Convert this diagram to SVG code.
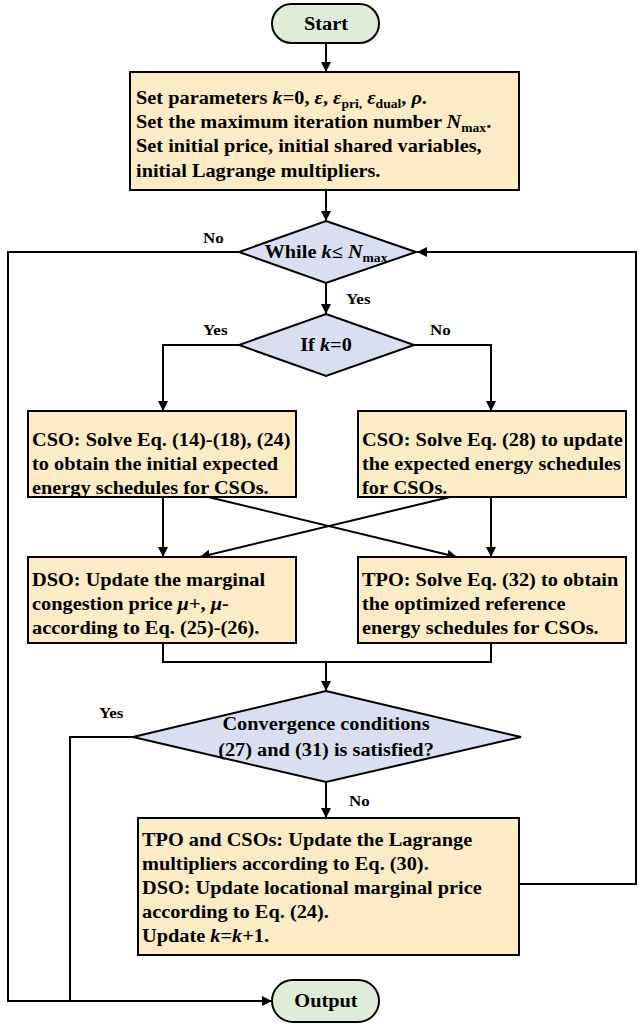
<svg xmlns="http://www.w3.org/2000/svg" width="639" height="1025" viewBox="0 0 639 1025">
<defs>
<marker id="ah" viewBox="0 0 10 10" refX="10" refY="5" markerWidth="10" markerHeight="10" markerUnits="userSpaceOnUse" orient="auto">
<path d="M0,0 L10,5 L0,10 z" fill="#000"/>
</marker>
<style>
.box{fill:#FDEBC6;stroke:#000;stroke-width:2}
.dia{fill:#D9DFF1;stroke:#000;stroke-width:2}
.pill{fill:#E0ECDA;stroke:#000;stroke-width:2}
.ln{fill:none;stroke:#000;stroke-width:2}
.arr{fill:none;stroke:#000;stroke-width:2;marker-end:url(#ah)}
text{font-family:"Liberation Serif","Times New Roman",serif;font-weight:bold;font-size:18px;fill:#000;transform-box:fill-box;transform-origin:0 0;transform:scaleX(1.13)}
.c{text-anchor:middle;transform-origin:50% 50%}
.lab{font-size:15px}
.i{font-style:italic}
.s{font-size:12px}
</style>
</defs>
<g id="connectors">
<path class="arr" d="M326,43 V72"/>
<path class="arr" d="M326,190 V221"/>
<path class="arr" d="M239,252 H8 V1001 H272"/>
<path class="arr" d="M519,884 H636 V252 H417"/>
<path class="arr" d="M326,283 V314"/>
<path class="arr" d="M239,345 H163 V411"/>
<path class="arr" d="M414,345 H491 V411"/>
<path class="arr" d="M163,497 V557"/>
<path class="arr" d="M491,497 V557"/>
<path class="arr" d="M208,497 L457,557"/>
<path class="arr" d="M450,497 L200,557"/>
<path class="ln" d="M163,643 V662 H491 V643"/>
<path class="arr" d="M326,662 V691"/>
<path class="ln" d="M133,737 H70 V1001"/>
<path class="arr" d="M326,782 V818"/>
<text class="lab" x="203" y="243">No</text>
<text class="lab" x="346" y="304">Yes</text>
<text class="lab" x="203" y="335">Yes</text>
<text class="lab" x="430" y="335">No</text>
<text class="lab" x="99" y="718">Yes</text>
<text class="lab" x="349" y="806">No</text>
</g>
<g id="start">
<rect class="pill" x="272" y="4" width="107" height="39" rx="19.5"/>
<text class="c" x="326" y="30">Start</text>
</g>
<g id="init">
<rect class="box" x="130" y="72" width="389" height="118"/>
<text x="136" y="104">Set parameters <tspan class="i">k</tspan>=0, <tspan class="i">ε</tspan>, <tspan class="i">ε</tspan><tspan class="s" dy="4">pri,</tspan><tspan dy="-4"> </tspan><tspan class="i">ε</tspan><tspan class="s" dy="4">dual</tspan><tspan dy="-4">, </tspan><tspan class="i">ρ</tspan>.</text>
<text x="136" y="128">Set the maximum iteration number <tspan class="i">N</tspan><tspan class="s" dy="4">max</tspan><tspan dy="-4">.</tspan></text>
<text x="136" y="152">Set initial price, initial shared variables,</text>
<text x="136" y="177">initial Lagrange multipliers.</text>
</g>
<g id="while">
<polygon class="dia" points="326,221 416,252 326,283 239,252"/>
<text class="c" x="326" y="258">While <tspan class="i">k</tspan>≤ <tspan class="i">N</tspan><tspan class="s" dy="4">max</tspan></text>
</g>
<g id="ifk">
<polygon class="dia" points="326,314 414,345 326,376 239,345"/>
<text class="c" x="326" y="351">If <tspan class="i">k</tspan>=0</text>
</g>
<g id="cso-init">
<rect class="box" x="28" y="411" width="268" height="86"/>
<text x="32" y="446">CSO: Solve Eq. (14)-(18), (24)</text>
<text x="32" y="470">to obtain the initial expected</text>
<text x="32" y="494">energy schedules for CSOs.</text>
</g>
<g id="cso-update">
<rect class="box" x="358" y="411" width="268" height="86"/>
<text x="362" y="446">CSO: Solve Eq. (28) to update</text>
<text x="362" y="470">the expected energy schedules</text>
<text x="362" y="494">for CSOs.</text>
</g>
<g id="dso">
<rect class="box" x="28" y="557" width="268" height="86"/>
<text x="32" y="586">DSO: Update the marginal</text>
<text x="32" y="610">congestion price <tspan class="i">μ</tspan>+, <tspan class="i">μ</tspan>-</text>
<text x="32" y="634">according to Eq. (25)-(26).</text>
</g>
<g id="tpo">
<rect class="box" x="358" y="557" width="268" height="86"/>
<text x="362" y="586">TPO: Solve Eq. (32) to obtain</text>
<text x="362" y="610">the optimized reference</text>
<text x="362" y="634">energy schedules for CSOs.</text>
</g>
<g id="convergence">
<polygon class="dia" points="326,691 521,737 326,782 133,737"/>
<text class="c" x="326" y="730">Convergence conditions</text>
<text class="c" x="326" y="756">(27) and (31) is satisfied?</text>
</g>
<g id="update">
<rect class="box" x="138" y="818" width="381" height="137"/>
<text x="142" y="846">TPO and CSOs: Update the Lagrange</text>
<text x="142" y="870">multipliers according to Eq. (30).</text>
<text x="142" y="894">DSO: Update locational marginal price</text>
<text x="142" y="918">according to Eq. (24).</text>
<text x="142" y="942">Update <tspan class="i">k</tspan>=<tspan class="i">k</tspan>+1.</text>
</g>
<g id="output">
<rect class="pill" x="272" y="980" width="107" height="42" rx="21"/>
<text class="c" x="326" y="1007">Output</text>
</g>
</svg>
